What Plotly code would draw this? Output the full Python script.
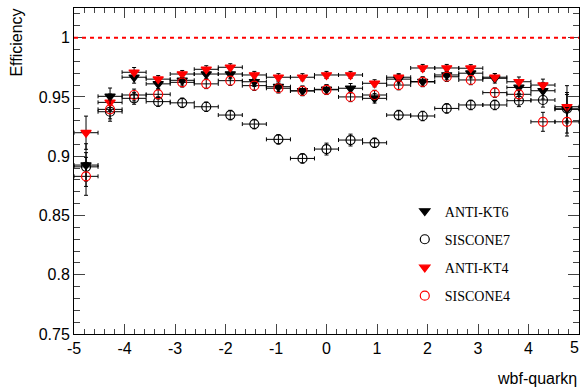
import plotly.graph_objects as go

# bin centres in wbf-quark eta (21 bins between -5 and 5)
eta = [-4.762, -4.286, -3.810, -3.333, -2.857, -2.381, -1.905, -1.429, -0.952, -0.476,
       0.0, 0.476, 0.952, 1.429, 1.905, 2.381, 2.857, 3.333, 3.810, 4.286, 4.762]
eta_halfwidth = [0.238] * len(eta)

x_tickvals = [-5, -4, -3, -2, -1, 0, 1, 2, 3, 4]
x_ticktext = ["-5", "-4", "-3", "-2", "-1", "0", "1", "2", "3", "4"]
x_last_tick = 5

antikt6 = [0.8925, 0.9505, 0.9666, 0.961, 0.964, 0.9693, 0.9693, 0.9628, 0.9586, 0.9552, 0.9564,
           0.9573, 0.9488, 0.965, 0.963, 0.9685, 0.970, 0.9657, 0.958, 0.9552, 0.9395]
antikt6_err = [0.018, 0.007, 0.005, 0.004, 0.004, 0.004, 0.004, 0.004, 0.004, 0.004, 0.004,
               0.004, 0.004, 0.004, 0.004, 0.004, 0.004, 0.004, 0.005, 0.007, 0.02]

siscone7 = [0.891, 0.9375, 0.9488, 0.946, 0.945, 0.9417, 0.9347, 0.9271, 0.9142, 0.8981, 0.906,
            0.9136, 0.9113, 0.9347, 0.9339, 0.9403, 0.9432, 0.9432, 0.9468, 0.9474, 0.940]
siscone7_err = [0.012, 0.008, 0.005, 0.004, 0.004, 0.004, 0.004, 0.004, 0.004, 0.004, 0.005,
                0.005, 0.004, 0.004, 0.004, 0.004, 0.004, 0.004, 0.005, 0.006, 0.012]

antikt4 = [0.9198, 0.9454, 0.9708, 0.965, 0.9693, 0.9733, 0.975, 0.9685, 0.9666, 0.9666, 0.9685,
           0.9685, 0.9615, 0.9666, 0.9744, 0.9744, 0.9742, 0.9666, 0.9628, 0.960, 0.9417]
antikt4_err = [0.014, 0.007, 0.004, 0.003, 0.003, 0.003, 0.003, 0.003, 0.003, 0.003, 0.003,
               0.003, 0.003, 0.003, 0.003, 0.003, 0.003, 0.003, 0.004, 0.005, 0.012]

siscone4 = [0.883, 0.9395, 0.9516, 0.9522, 0.9623, 0.961, 0.9637, 0.9595, 0.9573, 0.955, 0.956,
            0.950, 0.9516, 0.960, 0.9626, 0.967, 0.9643, 0.9536, 0.9522, 0.929, 0.929]
siscone4_err = [0.016, 0.008, 0.005, 0.004, 0.004, 0.004, 0.004, 0.004, 0.004, 0.004, 0.004,
                0.004, 0.004, 0.004, 0.004, 0.004, 0.004, 0.004, 0.005, 0.008, 0.012]

series = [
    ("ANTI-KT6", antikt6, antikt6_err, "triangle-down", "black"),
    ("SISCONE7", siscone7, siscone7_err, "circle-open", "black"),
    ("ANTI-KT4", antikt4, antikt4_err, "triangle-down", "red"),
    ("SISCONE4", siscone4, siscone4_err, "circle-open", "red"),
]

fig = go.Figure()
for name, vals, errs, sym, col in series:
    fig.add_trace(go.Scatter(
        x=eta, y=vals, mode="markers", name=name, legendgroup=name,
        marker=dict(symbol=sym, color=col, size=9, line=dict(color=col, width=1.2)),
        error_x=dict(type="data", array=eta_halfwidth, color="black", thickness=1, width=2),
        error_y=dict(type="data", array=errs, color="black", thickness=1, width=2),
    ))

# reference line at efficiency = 1
fig.add_shape(type="line", xref="paper", x0=0, x1=1, yref="y", y0=1, y1=1,
              line=dict(color="red", width=2, dash="4px,4px"))

L, R, T, B = 73.5, 2.5, 8, 54
fig.update_layout(
    width=582, height=388,
    margin=dict(l=L, r=R, t=T, b=B, autoexpand=False),
    paper_bgcolor="white", plot_bgcolor="white",
    font=dict(family="Liberation Sans, Arial, sans-serif", size=16, color="black"),
    showlegend=True,
    legend=dict(x=0.655, y=0.425, xanchor="left", yanchor="top",
                bgcolor="rgba(255,255,255,0)", borderwidth=0,
                font=dict(family="Liberation Serif, Times New Roman, serif", size=14, color="black"),
                tracegroupgap=7, itemwidth=30),
    xaxis=dict(range=[-5, 5], tickvals=x_tickvals, ticktext=x_ticktext,
               ticks="inside", ticklen=10, tickwidth=1, automargin=False,
               showline=True, linecolor="black", linewidth=1, mirror="ticks",
               showgrid=False, zeroline=False,
               minor=dict(dtick=0.2, tick0=0, ticks="inside", ticklen=5, tickwidth=1, showgrid=False),
               tickfont=dict(size=16)),
    yaxis=dict(range=[0.75, 1.025], dtick=0.05, tick0=0.75, ticks="inside", ticklen=11, tickwidth=1,
               showline=True, linecolor="black", linewidth=1, mirror="ticks",
               showgrid=False, zeroline=False, automargin=False,
               minor=dict(dtick=0.01, ticks="inside", ticklen=6, tickwidth=1, showgrid=False),
               tickfont=dict(size=16)),
)

pw = 582 - L - R
ph = 388 - T - B
# last x tick label, kept just inside the page edge
fig.add_annotation(text=str(x_last_tick), showarrow=False, xref="paper", yref="paper",
                   x=(581.5 - L) / pw, y=-(347 - (388 - B)) / ph, xanchor="right", yanchor="middle",
                   font=dict(size=16))
fig.add_annotation(text="Efficiency", textangle=-90, showarrow=False,
                   xref="paper", yref="paper", x=(15 - L) / pw, y=(388 - B - 7) / ph,
                   xanchor="center", yanchor="top", font=dict(size=16))
fig.add_annotation(text="wbf-quark\u03b7", showarrow=False,
                   xref="paper", yref="paper", x=(579 - L) / pw, y=-(378 - (388 - B)) / ph,
                   xanchor="right", yanchor="middle", font=dict(size=16))

fig.write_html("out.html")
